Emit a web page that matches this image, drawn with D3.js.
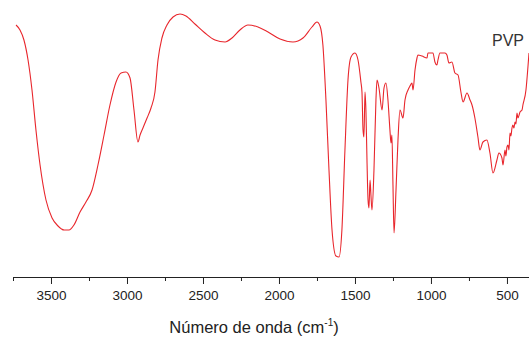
<!DOCTYPE html>
<html><head><meta charset="utf-8">
<script src="https://cdn.jsdelivr.net/npm/d3@7"></script>
<style>html,body{margin:0;padding:0;background:#fff;}svg{display:block;}</style>
</head><body>
<svg id="chart" width="529" height="338"></svg>
<script>
const wavenumber = [3730,3704,3678,3651,3625,3599,3572,3533,3493,3454,3414,3382,3349,3309,3270,3230,3191,3151,3112,3072,3039,3007,2980,2954,2928,2914,2895,2868,2842,2816,2796,2770,2737,2697,2651,2612,2553,2487,2421,2355,2309,2257,2204,2138,2072,1993,1908,1842,1783,1750,1730,1711,1691,1671,1651,1625,1605,1586,1566,1546,1526,1500,1480,1461,1454,1447,1441,1434,1428,1421,1414,1408,1401,1395,1388,1375,1362,1355,1342,1322,1309,1296,1283,1270,1263,1257,1250,1243,1230,1217,1204,1184,1171,1151,1138,1125,1118,1105,1092,1086,1059,1026,1020,987,974,961,954,941,908,895,882,862,842,822,803,789,763,743,730,711,691,678,658,632,612,592,566,553,533,526,513,507,500,493,487,480,474,467,461,454,447,441,434,428,414,401,395,375,362,355];
const transmittance = [94,92,88,80,68,52,38,24,16.8,13.6,12,12,14,19.2,23.2,28,38,50,62,71.2,74.8,75.2,72.8,60,47.2,50,52.8,56.8,60.8,67.2,80,88.8,94,97.2,98.4,97.6,94.4,90.8,88,87.2,88.8,92,94,93.2,91.2,88.4,87.2,88.8,93.2,95.2,93.6,86,64,36,12,1.6,1.2,12,44,72,81.2,82.8,80,71.2,67.2,52,49.2,67.2,60,40,24,20.8,32,26,20,36,64,72,68.8,60,68.8,70.8,64,52,46.8,50,30,10.8,28,48,60,56.8,64,68,69.6,70.8,68,76,80.8,82,81.6,80.8,82.8,82.8,79.2,78,80,82.8,82.8,82,78.8,79.2,74.8,74,67.2,63.2,66.8,64,62,56.8,49.2,44,47.2,48,42.8,34.8,40,42.8,40.8,38,44,41.6,45.2,46,44,50.8,49.6,52.8,54,52.8,55.2,54.4,58.8,56.8,59.2,60,62,68,77.2,82.8];
const tickValues = [3500,3000,2500,2000,1500,1000,500];
const minorTicks = [3750,3250,2750,2250,1750,1250,750];
const xTitle = "Número de onda (cm";
const seriesLabel = "PVP";

const svg = d3.select("#chart");
const x = d3.scaleLinear().domain([3750, 355]).range([13, 529]);
const y = d3.scaleLinear().domain([0, 100]).range([260, 10]);
const axisY = 277;
const font = "Arial, 'Liberation Sans', sans-serif";

// line
const line = d3.line().x((d,i)=>x(wavenumber[i])).y((d,i)=>y(transmittance[i])).curve(d3.curveMonotoneX);
svg.append("path").datum(wavenumber).attr("d", line)
  .attr("fill","none").attr("stroke","#e8262c").attr("stroke-width",1.1).attr("stroke-linejoin","round");

// axis
const axis = d3.axisBottom(x).tickValues(tickValues).tickSize(7).tickSizeOuter(0).tickPadding(4).tickFormat(d3.format("d"));
const gAx = svg.append("g").attr("transform",`translate(0,${axisY})`).call(axis);
gAx.select(".domain").attr("stroke","#222").attr("stroke-width",1);
gAx.selectAll(".tick line").attr("stroke","#222");
gAx.selectAll(".tick text").attr("font-family",font).attr("font-size",13.5).attr("fill","#222").attr("dy","0.9em");
const minorAxis = d3.axisBottom(x).tickValues(minorTicks).tickSize(4).tickSizeOuter(0).tickFormat("");
const gMin = svg.append("g").attr("transform",`translate(0,${axisY})`).call(minorAxis);
gMin.select(".domain").remove();
gMin.selectAll(".tick line").attr("stroke","#222");

// title
const t = svg.append("text").attr("x",254).attr("y",333).attr("text-anchor","middle")
  .attr("font-family",font).attr("font-size",16.5).attr("fill","#222");
t.append("tspan").text(xTitle);
t.append("tspan").text("-1").attr("font-size",10).attr("dy",-7);
t.append("tspan").text(")").attr("dy",7);

// series label
svg.append("text").attr("x",492).attr("y",46).attr("font-family",font).attr("font-size",16).attr("fill","#333").text(seriesLabel);
</script>
</body></html>
